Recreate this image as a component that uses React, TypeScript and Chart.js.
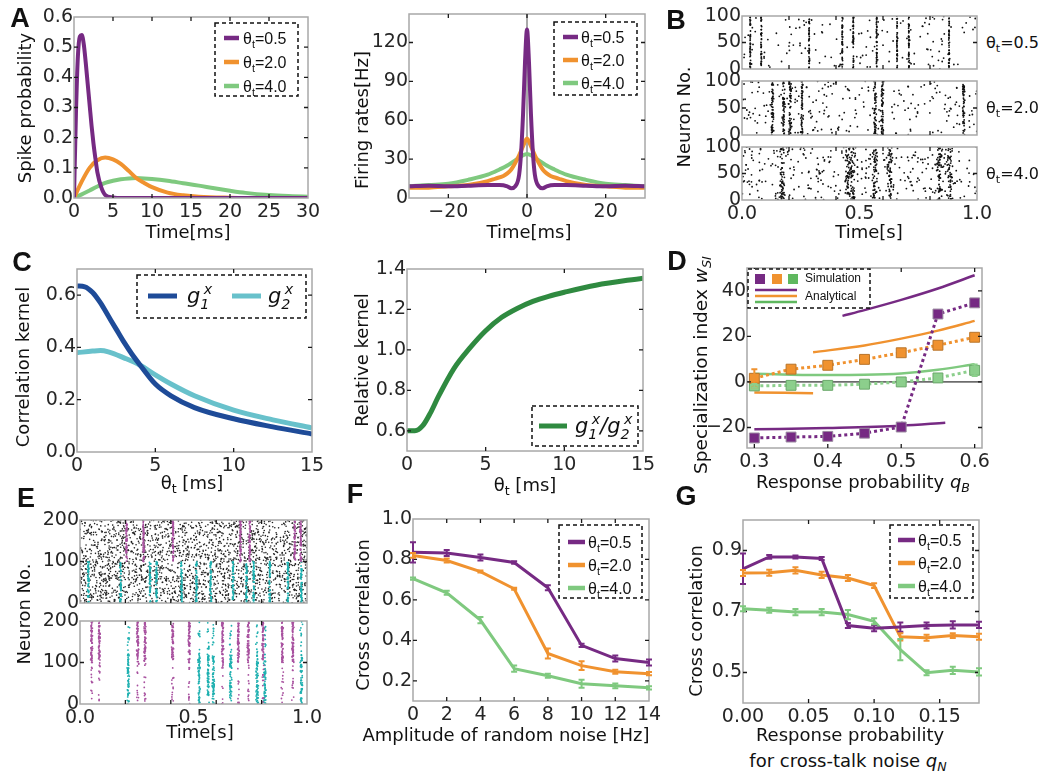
import React, { useEffect, useRef } from 'react';
import { Chart, registerables } from 'chart.js';

Chart.register(...registerables);

const TICK_FONT = "'DejaVu Sans', sans-serif";
const LEGEND_FONT = "'Liberation Sans', Arial, sans-serif";

const PURPLE = '#762a83';
const ORANGE = '#f0922f';
const GREEN = '#7fc97f';
const DARK_BLUE = '#1e4b98';
const LIGHT_BLUE = '#68c1cb';
const DARK_GREEN = '#2f8a40';
const E_PURPLE = '#a8519f';
const E_CYAN = '#1fb0b0';

// ---------- Panel A (left): spike probability ----------
const a1PurpleTime = [0, 0.25, 0.5, 0.75, 1, 1.25, 1.5, 1.75, 2, 2.25, 2.5, 2.75, 3, 3.5, 4, 5, 6, 10, 20, 30];
const a1PurpleProb = [0, 0.28, 0.47, 0.535, 0.54, 0.51, 0.45, 0.38, 0.31, 0.24, 0.18, 0.13, 0.085, 0.035, 0.01, 0.002, 0, 0, 0, 0];
const a1OrangeTime = [0, 1, 2, 3, 4, 5, 6, 7, 8, 9, 10, 12, 14, 16, 20, 25, 30];
const a1OrangeProb = [0, 0.055, 0.1, 0.125, 0.134, 0.128, 0.113, 0.09, 0.066, 0.05, 0.036, 0.018, 0.009, 0.004, 0.001, 0, 0];
const a1GreenTime = [0, 1, 2, 3, 4, 5, 6, 7, 8, 9, 10, 12, 14, 16, 18, 20, 22, 25, 28, 30];
const a1GreenProb = [0, 0.012, 0.025, 0.038, 0.05, 0.057, 0.062, 0.065, 0.066, 0.065, 0.063, 0.057, 0.049, 0.041, 0.032, 0.024, 0.017, 0.01, 0.006, 0.004];
const a1XTicks = [0, 5, 10, 15, 20, 25, 30];
const a1YTicks = [0, 0.1, 0.2, 0.3, 0.4, 0.5, 0.6];

// ---------- Panel A (right): firing rates ----------
const a2PurpleTime = [-30, -25, -20, -15, -10, -7, -5, -4, -3, -2, -1.5, -1, -0.5, 0, 0.5, 1, 1.5, 2, 3, 4, 5, 7, 10, 15, 20, 25, 30];
const a2PurpleRate = [9, 9.5, 9, 9.5, 10, 10, 9, 7.5, 9, 18, 35, 65, 105, 130, 105, 65, 35, 18, 9, 7.5, 9, 10, 10, 9.5, 9, 9.5, 9];
const a2OrangeTime = [-30, -25, -20, -15, -10, -8, -6, -5, -4, -3, -2, -1, 0, 1, 2, 3, 4, 5, 6, 8, 10, 15, 20, 25, 30];
const a2OrangeRate = [8, 8, 9, 10, 13, 15, 17, 19, 22, 27, 33, 40, 46, 40, 33, 27, 22, 19, 17, 15, 13, 10, 9, 8, 8];
const a2GreenTime = [-30, -25, -20, -15, -10, -7, -5, -3, -1, 0, 1, 3, 5, 7, 10, 15, 20, 25, 30];
const a2GreenRate = [9, 10, 11, 14, 18, 22, 25, 29, 33, 34, 33, 29, 25, 22, 18, 14, 11, 10, 9];
const a2XTicks = [-20, 0, 20];
const a2YTicks = [0, 30, 60, 90, 120];

// ---------- Panel B: rasters (burst times) ----------
const bBurstTimes05 = [0.035, 0.082, 0.286, 0.427, 0.474, 0.573, 0.66, 0.71, 0.881];
const bBurstTimes20 = [0.13, 0.177, 0.205, 0.255, 0.566, 0.598, 0.943];
const bBurstTimes40 = [0.17, 0.45, 0.47, 0.566, 0.63, 0.84, 0.885];
const bBackgroundCounts = [150, 220, 300];
const bSpikesPerBurst = [40, 50, 55];
const bBurstJitter = [0.002, 0.006, 0.013];
const bLabels = ['0.5', '2.0', '4.0'];
const rasterXTicks = [0, 0.5, 1];
const rasterTickMarks = [0.2, 0.4, 0.6, 0.8];
const bYTicks = [0, 50, 100];

// ---------- Panel C ----------
const c1Theta = [0, 0.5, 1, 1.5, 2, 2.5, 3, 3.5, 4, 5, 6, 7.5, 10, 12.5, 15];
const c1G1 = [0.635, 0.632, 0.61, 0.57, 0.52, 0.47, 0.42, 0.375, 0.335, 0.26, 0.215, 0.17, 0.127, 0.096, 0.069];
const c1G2Theta = [0, 1, 1.5, 2, 3, 4, 5, 6, 7.5, 10, 12.5, 15];
const c1G2 = [0.38, 0.386, 0.388, 0.383, 0.36, 0.333, 0.295, 0.26, 0.215, 0.16, 0.123, 0.092];
const c2Theta = [0, 0.5, 1, 1.5, 2, 3, 4, 5, 6, 7, 8, 9, 10, 12, 15];
const c2Ratio = [0.6, 0.6, 0.625, 0.69, 0.77, 0.91, 1.01, 1.095, 1.16, 1.205, 1.24, 1.265, 1.285, 1.32, 1.355];
const cXTicks = [0, 5, 10, 15];
const c1YTicks = [0, 0.2, 0.4, 0.6];
const c2YTicks = [0.6, 0.8, 1.0, 1.2, 1.4];

// ---------- Panel D ----------
const dQ = [0.3, 0.35, 0.4, 0.45, 0.5, 0.55, 0.6];
const dSimPurple = [-24.6, -24.2, -23.9, -22.5, -19.8, 29.8, 34.7];
const dSimOrange = [1.6, 5.6, 7.3, 9.9, 12.8, 16.1, 19.6];
const dSimGreen = [-1.75, -1.5, -1.5, -1.0, 0, 1.75, 5.1];
const dErrPurple = [0.8, 0.8, 0.8, 0.8, 0.8, 0.8, 0.8];
const dErrOrange = [4, 0.8, 0.8, 0.8, 0.8, 0.8, 0.8];
const dErrGreen = [0.8, 0.8, 0.8, 0.8, 0.8, 0.8, 2.5];
const dAnaPurpleUpQ = [0.42, 0.45, 0.5, 0.55, 0.6];
const dAnaPurpleUp = [29, 31.5, 36, 41, 46.8];
const dAnaPurpleLowQ = [0.3, 0.4, 0.5, 0.56];
const dAnaPurpleLow = [-20.8, -20.2, -19.2, -17.9];
const dAnaOrangeUpQ = [0.38, 0.45, 0.5, 0.55, 0.6];
const dAnaOrangeUp = [13, 16, 19, 22.5, 26.8];
const dAnaOrangeLowQ = [0.3, 0.38];
const dAnaOrangeLow = [-4.6, -5];
const dAnaGreenQ = [0.3, 0.35, 0.4, 0.45, 0.5, 0.55, 0.6];
const dAnaGreen = [3.6, 3.2, 3.0, 3.1, 3.7, 5.3, 7.8];
const dXTicks = [0.3, 0.4, 0.5, 0.6];
const dYTicks = [-20, 0, 20, 40];

// ---------- Panel E: rasters ----------
const e1PurpleTimes = [0.205, 0.28, 0.41, 0.707, 0.748, 0.946, 0.972];
const e1CyanTimes = [0.037, 0.179, 0.308, 0.337, 0.447, 0.513, 0.576, 0.674, 0.733, 0.765, 0.836, 0.916, 0.975];
const e2PurpleTimes = [0.051, 0.085, 0.254, 0.286, 0.408, 0.481, 0.628, 0.697, 0.741, 0.806, 0.891, 0.938];
const e2CyanTimes = [0.213, 0.525, 0.565, 0.587, 0.664, 0.78, 0.814, 0.975];
const e1BackgroundCount = 2200;
const eYTicks = [0, 100, 200];

// ---------- Panel F ----------
const fNoise = [0, 2, 4, 6, 8, 10, 12, 14];
const fPurple = [0.835, 0.832, 0.81, 0.785, 0.66, 0.375, 0.31, 0.29];
const fPurpleErr = [0.05, 0.015, 0.015, 0.006, 0.012, 0.008, 0.015, 0.015];
const fOrange = [0.82, 0.795, 0.74, 0.655, 0.335, 0.275, 0.245, 0.235];
const fOrangeErr = [0.012, 0.01, 0.005, 0.005, 0.025, 0.022, 0.01, 0.008];
const fGreen = [0.705, 0.635, 0.5, 0.26, 0.225, 0.185, 0.175, 0.165];
const fGreenErr = [0.006, 0.01, 0.015, 0.015, 0.01, 0.02, 0.012, 0.008];
const fXTicks = [0, 2, 4, 6, 8, 10, 12, 14];
const fYTicks = [0.2, 0.4, 0.6, 0.8, 1.0];

// ---------- Panel G ----------
const gQ = [0, 0.02, 0.04, 0.06, 0.08, 0.1, 0.12, 0.14, 0.16, 0.18];
const gPurple = [0.84, 0.879, 0.879, 0.874, 0.654, 0.645, 0.649, 0.654, 0.656, 0.656];
const gPurpleErr = [0.05, 0.006, 0.005, 0.005, 0.008, 0.01, 0.015, 0.01, 0.012, 0.01];
const gOrange = [0.826, 0.827, 0.835, 0.82, 0.81, 0.785, 0.617, 0.614, 0.621, 0.617];
const gOrangeErr = [0.01, 0.01, 0.01, 0.01, 0.01, 0.008, 0.012, 0.01, 0.008, 0.01];
const gGreen = [0.709, 0.704, 0.698, 0.698, 0.69, 0.668, 0.575, 0.499, 0.507, 0.502];
const gGreenErr = [0.008, 0.008, 0.01, 0.01, 0.015, 0.01, 0.035, 0.008, 0.012, 0.012];
const gXTicks = [0, 0.05, 0.1, 0.15];
const gYTicks = [0.5, 0.7, 0.9];

const thetaLabels = ['θ_{t}=0.5', 'θ_{t}=2.0', 'θ_{t}=4.0'];

// ---------- helpers ----------
const pairs = (xs: number[], ys: number[]) => xs.map((x, i) => ({ x, y: ys[i] }));

// deterministic integer hash -> [0,1), used only to scatter spikes inside each observed burst / background
function hash01(n: number) {
  let h = Math.imul((n | 0) ^ 0x9e3779b9, 0x85ebca6b);
  h ^= h >>> 13;
  h = Math.imul(h, 0xc2b2ae35);
  h ^= h >>> 16;
  h = Math.imul(h, 0x27d4eb2f);
  h ^= h >>> 15;
  return (h >>> 0) / 4294967296;
}

function burstSpikes(times: number[], n: number, jitter: number, lo: number, hi: number, seed: number) {
  const pts: { x: number; y: number }[] = [];
  times.forEach((t, b) => {
    for (let k = 0; k < n; k++) {
      const id = seed * 100000 + b * 1000 + k;
      const u = hash01(id * 3 + 1);
      const v = hash01(id * 3 + 2) + hash01(id * 3 + 3) - 1;
      pts.push({ x: t + v * jitter, y: lo + u * (hi - lo) });
    }
  });
  return pts;
}
function backgroundSpikes(n: number, hi: number, seed: number) {
  const pts: { x: number; y: number }[] = [];
  for (let k = 0; k < n; k++) {
    const id = seed * 100000 + k;
    pts.push({ x: hash01(id * 2 + 7), y: hash01(id * 2 + 8) * hi });
  }
  return pts;
}

const fmtNum = (d: number) => (v: number) => {
  const s = d >= 0 ? Math.abs(v).toFixed(d) : String(Math.round(Math.abs(v) * 1000) / 1000);
  return v < -1e-9 ? '\u2212' + s : s;
};

function axis(min: number, max: number, ticks: number[], fmt: (v: number) => string, size: number, isX: boolean, show = true) {
  return {
    type: 'linear',
    min,
    max,
    grid: { display: false, drawTicks: false },
    border: { display: false },
    ticks: {
      display: show,
      color: '#262626',
      font: { family: TICK_FONT, size: 19 },
      padding: isX ? 3 : 1,
      autoSkip: false,
      maxRotation: 0,
      minRotation: 0,
      callback: (v: any) => fmt(Number(v)),
    },
    afterBuildTicks: (s: any) => {
      s.ticks = ticks.map((v) => ({ value: v }));
    },
    afterFit: (s: any) => {
      if (isX) s.height = size;
      else s.width = size;
      s.paddingLeft = 0;
      s.paddingRight = 0;
      s.paddingTop = 0;
      s.paddingBottom = 0;
    },
  };
}

function drawRich(ctx: any, x: number, y: number, spec: string, size: number, family: string, italic: boolean) {
  const base = y + size * 0.35;
  let cx = x;
  let subX = 0;
  let lastSub = false;
  let i = 0;
  const font = (s: number) => `${italic ? 'italic ' : ''}${s}px ${family}`;
  ctx.textAlign = 'left';
  ctx.textBaseline = 'alphabetic';
  while (i < spec.length) {
    const ch = spec[i];
    if ((ch === '_' || ch === '^') && spec[i + 1] === '{') {
      const end = spec.indexOf('}', i);
      const t = spec.slice(i + 2, end);
      const s = size * 0.68;
      ctx.font = font(s);
      const w = ctx.measureText(t).width;
      if (ch === '_') {
        ctx.fillText(t, cx, base + size * 0.25);
        subX = cx;
        cx += w;
        lastSub = true;
      } else {
        const sx = lastSub ? subX + w * 0.4 : cx;
        ctx.fillText(t, sx, base - size * 0.45);
        cx = Math.max(cx, sx + w);
        lastSub = false;
      }
      i = end + 1;
    } else {
      let j = i;
      while (j < spec.length && !((spec[j] === '_' || spec[j] === '^') && spec[j + 1] === '{')) j++;
      const t = spec.slice(i, j);
      ctx.font = font(size);
      ctx.fillText(t, cx, base);
      cx += ctx.measureText(t).width;
      lastSub = false;
      i = j;
    }
  }
}

const framePlugin = {
  id: 'mplFrame',
  beforeDatasetsDraw(chart: any, _a: any, o: any) {
    const { ctx, chartArea: a } = chart;
    const xs = chart.scales.x;
    const ys = chart.scales.y;
    ctx.save();
    ctx.lineWidth = 1;
    if (o.hLines) {
      ctx.strokeStyle = o.refColor || '#000';
      o.hLines.forEach((v: number) => {
        const py = ys.getPixelForValue(v);
        ctx.beginPath();
        ctx.moveTo(a.left, py);
        ctx.lineTo(a.right, py);
        ctx.stroke();
      });
    }
    if (o.vLines) {
      ctx.strokeStyle = o.refColor || '#000';
      o.vLines.forEach((v: number) => {
        const px = xs.getPixelForValue(v);
        ctx.beginPath();
        ctx.moveTo(px, a.top);
        ctx.lineTo(px, a.bottom);
        ctx.stroke();
      });
    }
    ctx.restore();
  },
  afterDatasetsDraw(chart: any, _a: any, o: any) {
    const { ctx, chartArea: a } = chart;
    const xs = chart.scales.x;
    const ys = chart.scales.y;
    ctx.save();
    ctx.strokeStyle = '#a8a8a8';
    ctx.lineWidth = 1.5;
    ctx.strokeRect(a.left, a.top, a.right - a.left, a.bottom - a.top);
    ctx.strokeStyle = '#1a1a1a';
    ctx.lineWidth = 1.3;
    const L = 4;
    const xv: number[] = o.xMarks || xs.ticks.map((t: any) => t.value);
    const yv: number[] = o.yMarks || ys.ticks.map((t: any) => t.value);
    xv.forEach((v) => {
      const px = xs.getPixelForValue(v);
      if (px < a.left + 1 || px > a.right - 1) return;
      ctx.beginPath();
      ctx.moveTo(px, a.bottom);
      ctx.lineTo(px, a.bottom - L);
      ctx.moveTo(px, a.top);
      ctx.lineTo(px, a.top + L);
      ctx.stroke();
    });
    yv.forEach((v) => {
      const py = ys.getPixelForValue(v);
      if (py < a.top + 1 || py > a.bottom - 1) return;
      ctx.beginPath();
      ctx.moveTo(a.left, py);
      ctx.lineTo(a.left + L, py);
      ctx.moveTo(a.right, py);
      ctx.lineTo(a.right - L, py);
      ctx.stroke();
    });
    ctx.restore();
  },
};

const errorBarPlugin = {
  id: 'errorBars',
  afterDatasetsDraw(chart: any) {
    const ctx = chart.ctx;
    const ys = chart.scales.y;
    chart.data.datasets.forEach((d: any, i: number) => {
      if (!d.errorBars) return;
      const meta = chart.getDatasetMeta(i);
      ctx.save();
      ctx.strokeStyle = d.errorColor || d.borderColor;
      ctx.lineWidth = 2;
      meta.data.forEach((pt: any, j: number) => {
        const e = d.errorBars[j];
        if (!e) return;
        const v = d.data[j].y;
        const t = ys.getPixelForValue(v + e);
        const b = ys.getPixelForValue(v - e);
        ctx.beginPath();
        ctx.moveTo(pt.x, t);
        ctx.lineTo(pt.x, b);
        ctx.moveTo(pt.x - 3, t);
        ctx.lineTo(pt.x + 3, t);
        ctx.moveTo(pt.x - 3, b);
        ctx.lineTo(pt.x + 3, b);
        ctx.stroke();
      });
      ctx.restore();
    });
  },
};

const legendPlugin = {
  id: 'boxLegend',
  afterDraw(chart: any, _a: any, o: any) {
    if (!o || !o.mode) return;
    const a = chart.chartArea;
    const ctx = chart.ctx;
    const left = o.corner[1] === 'l' ? a.left + o.dx : a.right - o.dx - o.w;
    const top = o.corner[0] === 't' ? a.top + o.dy : a.bottom - o.dy - o.h;
    ctx.save();
    ctx.fillStyle = '#ffffff';
    ctx.fillRect(left, top, o.w, o.h);
    ctx.setLineDash([4, 3]);
    ctx.strokeStyle = '#111';
    ctx.lineWidth = 1.5;
    ctx.strokeRect(left, top, o.w, o.h);
    ctx.setLineDash([]);
    const items = chart.data.datasets.filter((d: any) => d.legendText);
    if (o.mode === 'rows') {
      items.forEach((d: any, i: number) => {
        const cy = top + o.first + i * o.gap;
        ctx.strokeStyle = d.borderColor;
        ctx.lineWidth = o.lineWidth;
        ctx.beginPath();
        ctx.moveTo(left + o.lineX, cy);
        ctx.lineTo(left + o.lineX + o.lineLen, cy);
        ctx.stroke();
        ctx.fillStyle = '#111';
        drawRich(ctx, left + o.textX, cy, d.legendText, o.font, o.family, !!o.italic);
      });
    } else if (o.mode === 'cols') {
      items.forEach((d: any, i: number) => {
        const cy = top + o.rowY;
        ctx.strokeStyle = d.borderColor;
        ctx.lineWidth = o.lineWidth;
        ctx.beginPath();
        ctx.moveTo(left + o.lineX[i], cy);
        ctx.lineTo(left + o.lineX[i] + o.lineLen, cy);
        ctx.stroke();
        ctx.fillStyle = '#111';
        drawRich(ctx, left + o.textX[i], cy, d.legendText, o.font, o.family, !!o.italic);
      });
    } else if (o.mode === 'sim') {
      o.colors.forEach((c: string, i: number) => {
        const cx = left + o.squareX[i];
        const cy = top + o.squareY;
        ctx.fillStyle = c;
        ctx.fillRect(cx - 5, cy - 5, 10, 10);
        ctx.strokeStyle = c;
        ctx.lineWidth = 2.5;
        ctx.beginPath();
        ctx.moveTo(left + o.lineX0, top + o.lineY[i]);
        ctx.lineTo(left + o.lineX1, top + o.lineY[i]);
        ctx.stroke();
      });
      ctx.fillStyle = '#111';
      ctx.font = `${o.font}px ${o.family}`;
      ctx.textBaseline = 'middle';
      ctx.textAlign = 'left';
      ctx.fillText(o.simText, left + o.textX, top + o.squareY);
      ctx.fillText(o.anaText, left + o.textX, top + o.anaY);
    }
    ctx.restore();
  },
};

Chart.register(framePlugin, errorBarPlugin, legendPlugin);

type Box = { l: number; t: number; r: number; b: number };
type Pad = { l: number; t: number; r: number; b: number };

function baseOptions(pad: Pad, x: any, y: any, plugins: any = {}) {
  return {
    animation: false,
    responsive: false,
    maintainAspectRatio: false,
    events: [],
    layout: { padding: { left: 0, right: pad.r, top: pad.t, bottom: 0 } },
    scales: { x, y },
    plugins: { legend: { display: false }, tooltip: { enabled: false }, ...plugins },
  };
}

function ChartCanvas({ box, pad, make }: { box: Box; pad: Pad; make: (pad: Pad) => any }) {
  const ref = useRef<HTMLCanvasElement | null>(null);
  useEffect(() => {
    const chart = new Chart(ref.current as HTMLCanvasElement, make(pad));
    return () => chart.destroy();
  }, []);
  const w = box.r - box.l + pad.l + pad.r;
  const h = box.b - box.t + pad.t + pad.b;
  return (
    <canvas
      ref={ref}
      width={w}
      height={h}
      style={{ position: 'absolute', left: box.l - pad.l, top: box.t - pad.t, width: w, height: h }}
    />
  );
}

const curve = (xs: number[], ys: number[], color: string, width: number, extra: any = {}) => ({
  data: pairs(xs, ys),
  borderColor: color,
  backgroundColor: color,
  borderWidth: width,
  pointRadius: 0,
  cubicInterpolationMode: 'monotone',
  fill: false,
  ...extra,
});

const dots = (data: any[], color: string, r = 1) => ({
  data,
  backgroundColor: color,
  borderWidth: 0,
  pointRadius: r,
  pointHoverRadius: 0,
});

const thetaRowsLegend = (dx: number, dy: number, first: number, gap: number, lineX: number, lineLen: number, textX: number) => ({
  mode: 'rows',
  corner: 'tr',
  dx,
  dy,
  w: 83,
  h: 73,
  first,
  gap,
  lineX,
  lineLen,
  textX,
  lineWidth: 4.5,
  font: 16,
  family: LEGEND_FONT,
});

// ---------- chart makers ----------
const makeA1 = (pad: Pad) => ({
  type: 'line',
  data: {
    datasets: [
      curve(a1PurpleTime, a1PurpleProb, PURPLE, 4, { legendText: thetaLabels[0] }),
      curve(a1OrangeTime, a1OrangeProb, ORANGE, 4, { legendText: thetaLabels[1] }),
      curve(a1GreenTime, a1GreenProb, GREEN, 4, { legendText: thetaLabels[2] }),
    ],
  },
  options: baseOptions(pad, axis(0, 30, a1XTicks, fmtNum(-1), pad.b, true), axis(0, 0.6, a1YTicks, fmtNum(1), pad.l, false), {
    boxLegend: thetaRowsLegend(10, 6, 15, 24, 9, 15, 28),
  }),
});

const makeA2 = (pad: Pad) => ({
  type: 'line',
  data: {
    datasets: [
      curve(a2PurpleTime, a2PurpleRate, PURPLE, 4, { legendText: thetaLabels[0] }),
      curve(a2OrangeTime, a2OrangeRate, ORANGE, 4, { legendText: thetaLabels[1] }),
      curve(a2GreenTime, a2GreenRate, GREEN, 4, { legendText: thetaLabels[2] }),
    ],
  },
  options: baseOptions(pad, axis(-30, 30, a2XTicks, fmtNum(-1), pad.b, true), axis(0, 142, a2YTicks, fmtNum(-1), pad.l, false), {
    boxLegend: thetaRowsLegend(8, 8, 15, 23, 9, 15, 27),
    mplFrame: { vLines: [0], refColor: '#555' },
  }),
});

const makeRasterB = (idx: number, times: number[], showX: boolean) => (pad: Pad) => ({
  type: 'scatter',
  data: {
    datasets: [
      dots(burstSpikes(times, bSpikesPerBurst[idx], bBurstJitter[idx], 0, 100, idx + 1), '#111', 0.9),
      dots(backgroundSpikes(bBackgroundCounts[idx], 100, idx + 11), '#111', 0.9),
    ],
  },
  options: baseOptions(pad, axis(0, 1, rasterXTicks, fmtNum(1), pad.b, true, showX), axis(0, 100, bYTicks, fmtNum(-1), pad.l, false), {
    mplFrame: { xMarks: rasterTickMarks },
  }),
});

const makeC1 = (pad: Pad) => ({
  type: 'line',
  data: {
    datasets: [
      curve(c1Theta, c1G1, DARK_BLUE, 5, { legendText: 'g_{1}^{x}' }),
      curve(c1G2Theta, c1G2, LIGHT_BLUE, 5, { legendText: 'g_{2}^{x}' }),
    ],
  },
  options: baseOptions(pad, axis(0, 15, cXTicks, fmtNum(-1), pad.b, true), axis(0, 0.7, c1YTicks, fmtNum(1), pad.l, false), {
    boxLegend: {
      mode: 'cols',
      corner: 'tr',
      dx: 6,
      dy: 6,
      w: 169,
      h: 43,
      rowY: 21,
      lineX: [11, 95],
      textX: [50, 131],
      lineLen: 29,
      lineWidth: 5,
      font: 21,
      family: TICK_FONT,
      italic: true,
    },
  }),
});

const makeC2 = (pad: Pad) => ({
  type: 'line',
  data: { datasets: [curve(c2Theta, c2Ratio, DARK_GREEN, 5, { legendText: 'g_{1}^{x}/g_{2}^{x}' })] },
  options: baseOptions(pad, axis(0, 15, cXTicks, fmtNum(-1), pad.b, true), axis(0.5, 1.4, c2YTicks, fmtNum(1), pad.l, false), {
    boxLegend: {
      mode: 'cols',
      corner: 'br',
      dx: 5,
      dy: 5,
      w: 106,
      h: 40,
      rowY: 20,
      lineX: [7],
      textX: [43],
      lineLen: 28,
      lineWidth: 5,
      font: 21,
      family: TICK_FONT,
      italic: true,
    },
  }),
});

const simSeries = (ys: number[], errs: number[], color: string, edge: string) => ({
  data: pairs(dQ, ys),
  borderColor: color,
  backgroundColor: color,
  borderWidth: 3,
  borderDash: [3, 3],
  pointStyle: 'rect',
  pointRadius: 7,
  pointBackgroundColor: color,
  pointBorderColor: edge,
  pointBorderWidth: 1,
  tension: 0,
  errorBars: errs,
  errorColor: color,
});
const anaSeries = (xs: number[], ys: number[], color: string) => ({
  data: pairs(xs, ys),
  borderColor: color,
  backgroundColor: color,
  borderWidth: 2.5,
  pointRadius: 0,
  cubicInterpolationMode: 'monotone',
});

const makeD = (pad: Pad) => ({
  type: 'line',
  data: {
    datasets: [
      simSeries(dSimPurple, dErrPurple, PURPLE, '#9a8aa0'),
      simSeries(dSimOrange, dErrOrange, ORANGE, '#b8742a'),
      simSeries(dSimGreen, dErrGreen, '#8ccf8c', '#6aa86a'),
      anaSeries(dAnaPurpleUpQ, dAnaPurpleUp, PURPLE),
      anaSeries(dAnaPurpleLowQ, dAnaPurpleLow, PURPLE),
      anaSeries(dAnaOrangeUpQ, dAnaOrangeUp, ORANGE),
      anaSeries(dAnaOrangeLowQ, dAnaOrangeLow, ORANGE),
      anaSeries(dAnaGreenQ, dAnaGreen, GREEN),
    ],
  },
  options: baseOptions(pad, axis(0.29, 0.61, dXTicks, fmtNum(1), pad.b, true), axis(-29, 50, dYTicks, fmtNum(-1), pad.l, false), {
    mplFrame: { hLines: [0], refColor: '#000' },
    boxLegend: {
      mode: 'sim',
      corner: 'tl',
      dx: 1,
      dy: 1,
      w: 122,
      h: 39,
      colors: [PURPLE, ORANGE, '#5fb85f'],
      squareX: [12, 29, 45],
      squareY: 10,
      lineX0: 7,
      lineX1: 49,
      lineY: [21, 27, 33],
      textX: 57,
      anaY: 28,
      simText: 'Simulation',
      anaText: 'Analytical',
      font: 12,
      family: LEGEND_FONT,
    },
  }),
});

const makeE1 = (pad: Pad) => ({
  type: 'scatter',
  data: {
    datasets: [
      dots(burstSpikes(e1PurpleTimes, 55, 0.004, 100, 200, 21), E_PURPLE, 0.9),
      dots(burstSpikes(e1CyanTimes, 55, 0.004, 0, 100, 22), E_CYAN, 0.9),
      dots(backgroundSpikes(e1BackgroundCount, 200, 23), '#222', 0.8),
    ],
  },
  options: baseOptions(pad, axis(0, 1, rasterXTicks, fmtNum(1), pad.b, true, false), axis(0, 200, eYTicks, fmtNum(-1), pad.l, false), {
    mplFrame: { xMarks: rasterTickMarks },
  }),
});

const makeE2 = (pad: Pad) => ({
  type: 'scatter',
  data: {
    datasets: [
      dots(burstSpikes(e2PurpleTimes, 60, 0.005, 100, 200, 31), E_PURPLE, 0.9),
      dots(burstSpikes(e2PurpleTimes, 12, 0.005, 0, 100, 32), E_PURPLE, 0.9),
      dots(burstSpikes(e2CyanTimes, 60, 0.006, 0, 120, 33), E_CYAN, 0.9),
      dots(burstSpikes(e2CyanTimes, 10, 0.006, 120, 200, 34), E_CYAN, 0.9),
    ],
  },
  options: baseOptions(pad, axis(0, 1, rasterXTicks, fmtNum(1), pad.b, true), axis(0, 200, eYTicks, fmtNum(-1), pad.l, false), {
    mplFrame: { xMarks: rasterTickMarks },
  }),
});

const errSeries = (xs: number[], ys: number[], errs: number[], color: string, legendText: string) => ({
  data: pairs(xs, ys),
  borderColor: color,
  backgroundColor: color,
  borderWidth: 3,
  pointRadius: 0,
  tension: 0,
  errorBars: errs,
  legendText,
});

const makeF = (pad: Pad) => ({
  type: 'line',
  data: {
    datasets: [
      errSeries(fNoise, fPurple, fPurpleErr, PURPLE, thetaLabels[0]),
      errSeries(fNoise, fOrange, fOrangeErr, ORANGE, thetaLabels[1]),
      errSeries(fNoise, fGreen, fGreenErr, GREEN, thetaLabels[2]),
    ],
  },
  options: baseOptions(pad, axis(0, 14, fXTicks, fmtNum(-1), pad.b, true), axis(0.1, 1.0, fYTicks, fmtNum(1), pad.l, false), {
    boxLegend: thetaRowsLegend(7, 6, 17, 23, 9, 17, 29),
  }),
});

const makeG = (pad: Pad) => ({
  type: 'line',
  data: {
    datasets: [
      errSeries(gQ, gPurple, gPurpleErr, PURPLE, thetaLabels[0]),
      errSeries(gQ, gOrange, gOrangeErr, ORANGE, thetaLabels[1]),
      errSeries(gQ, gGreen, gGreenErr, GREEN, thetaLabels[2]),
    ],
  },
  options: baseOptions(pad, axis(0, 0.18, gXTicks, fmtNum(2), pad.b, true), axis(0.4, 1.0, gYTicks, fmtNum(1), pad.l, false), {
    boxLegend: thetaRowsLegend(6, 5, 15, 23, 8, 17, 28),
  }),
});

// ---------- text overlays ----------
const Sub = ({ children, italic }: any) => (
  <span style={{ fontSize: '0.7em', position: 'relative', top: '0.32em', fontStyle: italic ? 'italic' : 'normal' }}>{children}</span>
);

function Label({ x, y, rot, size = 18, family = TICK_FONT, bold, children }: any) {
  return (
    <div
      style={{
        position: 'absolute',
        left: x,
        top: y,
        transform: `translate(-50%, -50%)${rot ? ' rotate(-90deg)' : ''}`,
        fontFamily: family,
        fontSize: size,
        fontWeight: bold ? 700 : 400,
        lineHeight: 1,
        whiteSpace: 'nowrap',
        color: '#111',
      }}
    >
      {children}
    </div>
  );
}

const Letter = ({ x, y, children }: any) => (
  <Label x={x} y={y} size={27} bold family={LEGEND_FONT}>
    {children}
  </Label>
);

const Theta = () => (
  <>
    θ<Sub>t</Sub>
  </>
);

const bLabelY = [43, 108, 174];

export default function App() {
  return (
    <div style={{ position: 'fixed', left: 0, top: 0, width: 1047, height: 774, background: '#fff', overflow: 'hidden' }}>
      <ChartCanvas box={{ l: 74, t: 17, r: 308, b: 198 }} pad={{ l: 60, t: 12, r: 16, b: 30 }} make={makeA1} />
      <ChartCanvas box={{ l: 409, t: 14, r: 645, b: 198 }} pad={{ l: 60, t: 12, r: 16, b: 30 }} make={makeA2} />
      <ChartCanvas box={{ l: 742, t: 16, r: 977, b: 69 }} pad={{ l: 60, t: 10, r: 4, b: 12 }} make={makeRasterB(0, bBurstTimes05, false)} />
      <ChartCanvas box={{ l: 742, t: 81, r: 977, b: 135 }} pad={{ l: 60, t: 10, r: 4, b: 12 }} make={makeRasterB(1, bBurstTimes20, false)} />
      <ChartCanvas box={{ l: 742, t: 147, r: 977, b: 200 }} pad={{ l: 60, t: 10, r: 20, b: 30 }} make={makeRasterB(2, bBurstTimes40, true)} />
      <ChartCanvas box={{ l: 77, t: 269, r: 312, b: 452 }} pad={{ l: 60, t: 10, r: 16, b: 30 }} make={makeC1} />
      <ChartCanvas box={{ l: 407, t: 269, r: 643, b: 451 }} pad={{ l: 60, t: 10, r: 16, b: 30 }} make={makeC2} />
      <ChartCanvas box={{ l: 747, t: 268, r: 982, b: 448 }} pad={{ l: 60, t: 10, r: 20, b: 30 }} make={makeD} />
      <ChartCanvas box={{ l: 80, t: 520, r: 307, b: 603 }} pad={{ l: 60, t: 10, r: 5, b: 12 }} make={makeE1} />
      <ChartCanvas box={{ l: 80, t: 621, r: 307, b: 704 }} pad={{ l: 60, t: 10, r: 20, b: 30 }} make={makeE2} />
      <ChartCanvas box={{ l: 413, t: 519, r: 649, b: 701 }} pad={{ l: 60, t: 10, r: 20, b: 30 }} make={makeF} />
      <ChartCanvas box={{ l: 743, t: 520, r: 979, b: 703 }} pad={{ l: 60, t: 10, r: 22, b: 30 }} make={makeG} />

      <Letter x={20} y={18}>A</Letter>
      <Letter x={676} y={20}>B</Letter>
      <Letter x={22} y={262}>C</Letter>
      <Letter x={677} y={261}>D</Letter>
      <Letter x={26} y={498}>E</Letter>
      <Letter x={355} y={494}>F</Letter>
      <Letter x={686} y={496}>G</Letter>

      <Label x={25} y={108} rot>Spike probability</Label>
      <Label x={188} y={232}>Time[ms]</Label>
      <Label x={362} y={120} rot>Firing rates[Hz]</Label>
      <Label x={529} y={232}>Time[ms]</Label>
      <Label x={684} y={117} rot>Neuron No.</Label>
      <Label x={869} y={232}>Time[s]</Label>
      {bLabels.map((t, i) => (
        <div key={t} style={{ position: 'absolute', left: 986, top: bLabelY[i], transform: 'translateY(-50%)', fontFamily: TICK_FONT, fontSize: 16, lineHeight: 1, color: '#111', whiteSpace: 'nowrap' }}>
          θ<Sub>t</Sub>={t}
        </div>
      ))}

      <Label x={23} y={367} rot>Correlation kernel</Label>
      <Label x={192} y={483}>
        <Theta /> [ms]
      </Label>
      <Label x={362} y={360} rot>Relative kernel</Label>
      <Label x={525} y={485}>
        <Theta /> [ms]
      </Label>
      <Label x={701} y={365} rot size={18.5}>
        Specialization index <i>w</i>
        <Sub italic>SI</Sub>
      </Label>
      <Label x={863} y={482}>
        Response probability <i>q</i>
        <Sub italic>B</Sub>
      </Label>

      <Label x={24} y={614} rot>Neuron No.</Label>
      <Label x={200} y={732}>Time[s]</Label>
      <Label x={363} y={615} rot>Cross correlation</Label>
      <Label x={506} y={735}>Amplitude of random noise [Hz]</Label>
      <Label x={696} y={621} rot>Cross correlation</Label>
      <Label x={850} y={735}>Response probability</Label>
      <Label x={848} y={761}>
        for cross-talk noise <i>q</i>
        <Sub italic>N</Sub>
      </Label>
    </div>
  );
}
